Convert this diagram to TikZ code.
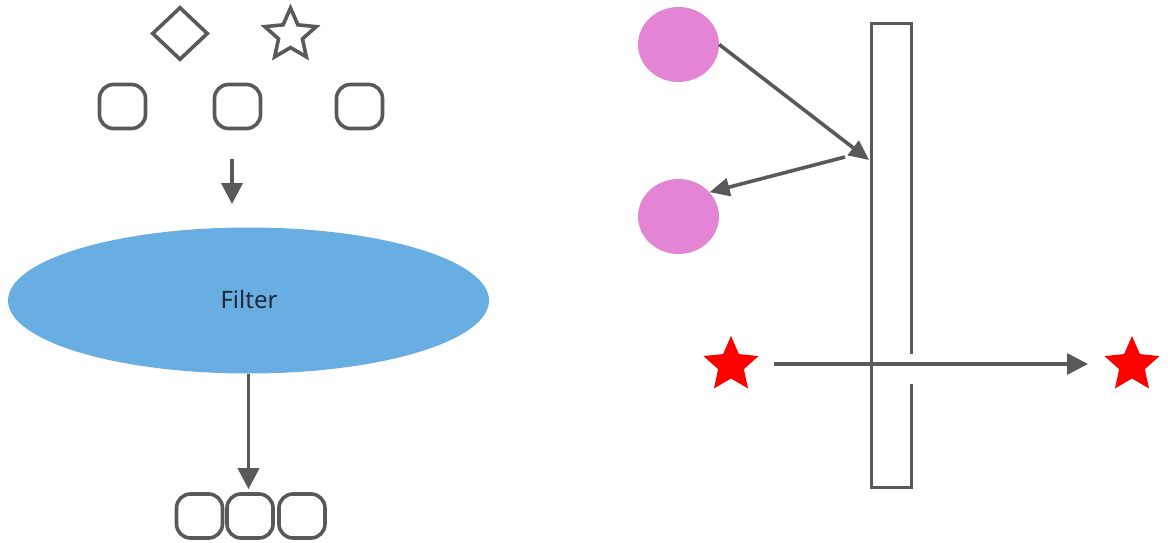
\documentclass[tikz,border=0pt]{standalone}
\usepackage{fontspec}
\setmainfont{Noto Sans}
\usetikzlibrary{shapes.geometric,arrows.meta}
\definecolor{ln}{HTML}{595959}
\definecolor{blu}{HTML}{68AEE2}
\definecolor{pnk}{HTML}{E384D4}
\definecolor{txt}{HTML}{1F2A38}
\tikzset{
  ln/.style={draw=ln,line width=3.6pt},
  rbox/.style={ln,rounded corners=14pt,minimum width=46pt,minimum height=44pt,inner sep=0pt},
  arr/.style={ln,-{Triangle[length=21pt,width=21pt]}},
  sarr/.style={ln,-{Triangle[length=20pt,width=18pt]}},
  dot/.style={ellipse,fill=pnk,minimum width=81pt,minimum height=75pt,inner sep=0pt},
  redstar/.style={star,star points=5,star point ratio=2.15,fill=red,minimum size=58pt,inner sep=0pt},
}
\begin{document}
\begin{tikzpicture}[x=1pt,y=-1pt]
\useasboundingbox (0,0) rectangle (1168,543);
% left part
\node[diamond,ln,minimum width=56pt,minimum height=53pt,inner sep=0pt] (dia) at (180,33.5) {};
\node[star,star points=5,star point ratio=2.15,ln,minimum size=54pt,inner sep=0pt,line join=miter] (st) at (290.5,35) {};
\node[rbox] (t1) at (122.5,106.5) {};
\node[rbox] (t2) at (237.5,106.5) {};
\node[rbox] (t3) at (359.5,106.5) {};
\coordinate (a0) at (232,159);
\coordinate (a1) at (232,204);
\draw[arr] (a0) -- (a1);
\node[ellipse,fill=blu,minimum width=481pt,minimum height=146pt,inner sep=0pt] (ell) at (248.5,300.5) {};
\node[text=txt,font=\fontsize{24}{28}\selectfont] (lab) at (249,299) {Filter};
\node[rbox] (b1) at (199.5,516) {};
\node[rbox] (b2) at (250,516) {};
\node[rbox] (b3) at (302,516) {};
\draw[arr] (ell.south) -- ([shift={(-1.5,-3)}]b2.north);
% right part
\node[ln,minimum width=40pt,minimum height=464pt,inner sep=0pt] (bar) at (891.5,255.5) {};
\node[dot] (c1) at (678.5,44.5) {};
\node[dot] (c2) at (678.5,216.5) {};
\coordinate (hit) at (869,160);
\coordinate (ref) at (845,157);
\draw[sarr] (c1.east) -- (hit);
\draw[sarr] (ref) -- (c2.38);
\node[redstar] (s1) at (731,365) {};
\node[redstar] (s2) at (1132,365) {};
\fill[white] (909,354) rectangle (916,384);
\coordinate (h0) at (774,364);
\coordinate (h1) at (1088,364);
\draw[arr] (h0) -- (h1);
\end{tikzpicture}
\end{document}
